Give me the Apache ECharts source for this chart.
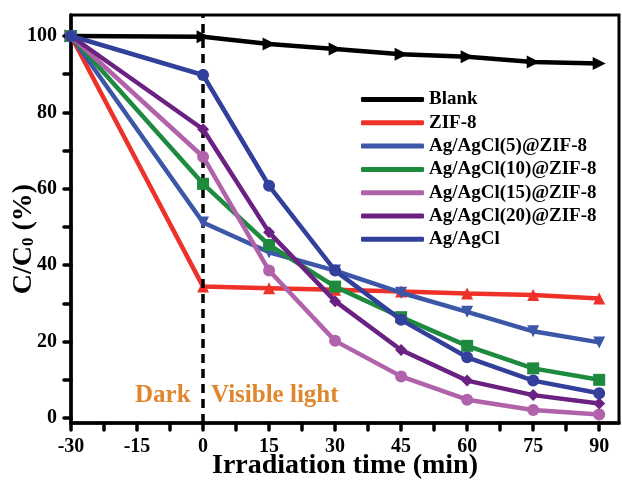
<!DOCTYPE html>
<html><head><meta charset="utf-8">
<script src="https://cdn.jsdelivr.net/npm/echarts@6/dist/echarts.min.js"></script>
<style>html,body{margin:0;padding:0;background:#fff}#c{width:622px;height:482px}</style>
</head><body><div id="c"></div>
<script>
const times = [-30, 0, 15, 30, 45, 60, 75, 90];
const xTickValues = [-30, -22.5, -15, -7.5, 0, 7.5, 15, 22.5, 30, 37.5, 45, 52.5, 60, 67.5, 75, 82.5, 90];
const xLabelValues = [-30, -15, 0, 15, 30, 45, 60, 75, 90];
const yTickValues = [0, 10, 20, 30, 40, 50, 60, 70, 80, 90, 100];
const yLabelValues = [0, 20, 40, 60, 80, 100];
const seriesNames = ['Blank', 'ZIF-8', 'Ag/AgCl(5)@ZIF-8', 'Ag/AgCl(10)@ZIF-8', 'Ag/AgCl(15)@ZIF-8', 'Ag/AgCl(20)@ZIF-8', 'Ag/AgCl'];
const blank   = [100, 99.8, 97.9, 96.6, 95.2, 94.6, 93.2, 92.8];
const zif8    = [100, 34.4, 34.0, 33.6, 33.1, 32.6, 32.2, 31.3];
const ag5     = [100, 51.2, 43.4, 38.6, 32.8, 27.8, 22.7, 19.8];
const ag10    = [100, 61.3, 45.3, 34.4, 26.4, 18.9, 13.0, 10.0];
const ag15    = [100, 68.4, 38.6, 20.2, 10.9, 4.8, 2.1, 0.9];
const ag20    = [100, 75.6, 48.6, 30.6, 17.8, 9.8, 6.0, 3.8];
const agcl    = [100, 89.8, 60.8, 38.6, 25.7, 15.9, 9.8, 6.5];
const allData = [blank, zif8, ag5, ag10, ag15, ag20, agcl];
const colors = ['#000000', '#EE3129', '#3C56A8', '#1D8A3E', '#B062AA', '#6B2182', '#32409B'];
const symbols = ['triangle', 'triangle', 'triangle', 'rect', 'circle', 'diamond', 'circle'];
const rotations = [-90, 0, 180, 0, 0, 0, 0];

const FONT = 'Liberation Serif';
const chart = echarts.init(document.getElementById('c'));
const series = seriesNames.map((name, i) => ({
  name, type: 'line',
  data: times.map((t, j) => [t, allData[i][j]]),
  symbol: symbols[i], symbolRotate: rotations[i],
  symbolSize: i === 0 ? 13 : 12,
  showSymbol: true,
  lineStyle: {width: 4.5, color: colors[i]},
  itemStyle: {color: colors[i]},
  z: 3 + i,
  markLine: i === 0 ? {
    silent: true, symbol: 'none', label: {show: false},
    lineStyle: {color: '#000', width: 3.5, type: [9, 6]},
    data: [{xAxis: 0}]
  } : undefined
}));

chart.setOption({
  animation: false,
  backgroundColor: '#fff',
  grid: {left: 71, right: 3, top: 15, bottom: 59, show: true, borderColor: '#000', borderWidth: 3, outerBoundsMode: 'none', containLabel: false},
  legend: {
    orient: 'vertical', left: 356, top: 85, itemWidth: 63, itemHeight: 5, itemGap: 4.3,
    icon: 'roundRect',
    data: seriesNames,
    textStyle: {fontFamily: FONT, fontWeight: 'bold', fontSize: 19, color: '#000', lineHeight: 19}
  },
  xAxis: {
    type: 'value', min: -30, max: 94.5,
    name: 'Irradiation time (min)', nameLocation: 'middle', nameGap: 29, nameMoveOverlap: false,
    nameTextStyle: {fontFamily: FONT, fontWeight: 'bold', fontSize: 28, color: '#000'},
    axisLine: {show: true, onZero: false, lineStyle: {color: '#000', width: 3.5}},
    axisTick: {show: true, inside: false, length: 7, lineStyle: {color: '#000', width: 3.5, cap: 'round'}, customValues: xTickValues},
    axisLabel: {fontFamily: FONT, fontWeight: 'bold', fontSize: 20, color: '#000', margin: 14, customValues: xLabelValues},
    splitLine: {show: false}
  },
  yAxis: {
    type: 'value', min: -1.3, max: 105.5,
    axisLine: {show: true, onZero: false, lineStyle: {color: '#000', width: 3.5}},
    axisTick: {show: true, inside: false, length: 7, lineStyle: {color: '#000', width: 3.5, cap: 'round'}, customValues: yTickValues},
    axisLabel: {fontFamily: FONT, fontWeight: 'bold', fontSize: 20, color: '#000', margin: 14, customValues: yLabelValues},
    splitLine: {show: false}
  },
  graphic: [
    {type: 'text', left: 135, top: 383, style: {text: 'Dark', font: 'bold 25px "Liberation Serif"', fill: '#E0862E'}},
    {type: 'text', left: 211, top: 383, style: {text: 'Visible light', font: 'bold 25px "Liberation Serif"', fill: '#E0862E'}},
    {type: 'text', x: 24, y: 239, rotation: Math.PI / 2,
      style: {text: 'C/C{sub|0} (%)', font: 'bold 28px "Liberation Serif"', fill: '#000', align: 'center', verticalAlign: 'middle',
        rich: {sub: {font: 'bold 17px "Liberation Serif"', fill: '#000', padding: [10, 0, 0, 0]}}}}
  ],
  series
});
</script></body></html>
